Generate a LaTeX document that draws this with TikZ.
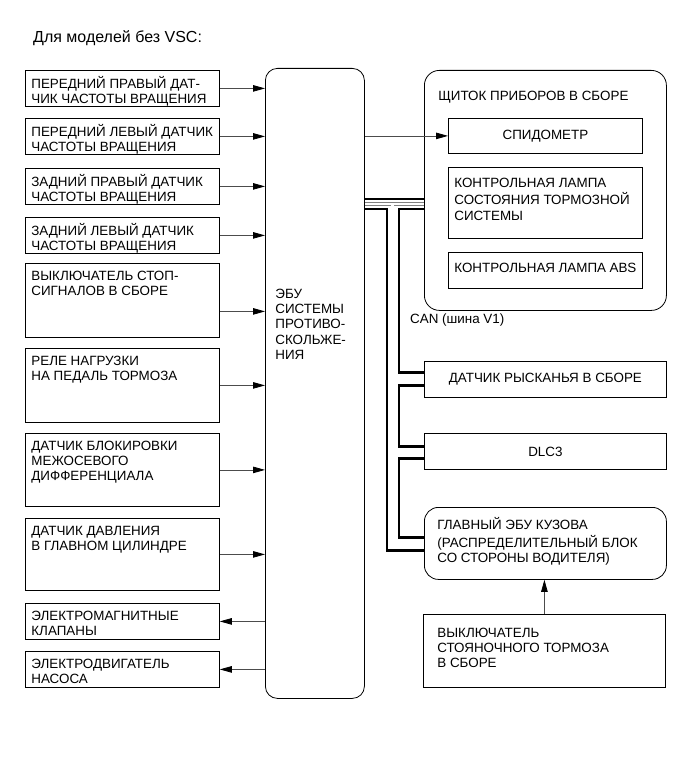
\documentclass[tikz,border=0pt]{standalone}
\usepackage{fontspec}
\setmainfont{Liberation Sans}
\usetikzlibrary{arrows.meta,calc,backgrounds}

% text block pinned to the top of a box: [top gap]{width}{height}{lines}
\newcommand{\boxbody}[4][0pt]{\parbox[c][#3][t]{#2}{\raggedright\vspace*{#1}\strut #4}}

\begin{document}
\begin{tikzpicture}[x=1pt, y=-1pt,
    every node/.style={font=\fontsize{13.4}{15.3}\selectfont},
    blk/.style={draw, line width=0.8pt, anchor=north west, inner xsep=6pt, inner ysep=6pt},
    cbox/.style={draw, line width=0.8pt, anchor=north west, align=center, inner sep=0pt},
    rbox/.style={blk, rounded corners=14pt},
    sig/.style={draw=black!70, line width=0.8pt, -{Triangle[length=12pt,width=6.5pt,color=black]}},
    canblk/.style={line width=2.8pt},
    canwht/.style={draw=white, line width=2.2pt, preaction={draw=black!50, line width=3.8pt}},
]
\useasboundingbox (0,0) rectangle (691,757);

\node[anchor=base west, inner sep=0pt, font=\fontsize{16}{18}\selectfont] (title) at (33,43) {Для моделей без VSC:};

% inputs and outputs of the ECU
\node[blk] (s1) at (25,70)  {\boxbody{182pt}{24pt}{ПЕРЕДНИЙ ПРАВЫЙ ДАТ-\\ЧИК ЧАСТОТЫ ВРАЩЕНИЯ}};
\node[blk] (s2) at (25,118) {\boxbody{182pt}{24pt}{ПЕРЕДНИЙ ЛЕВЫЙ ДАТЧИК\\ЧАСТОТЫ ВРАЩЕНИЯ}};
\node[blk] (s3) at (25,168) {\boxbody{182pt}{24pt}{ЗАДНИЙ ПРАВЫЙ ДАТЧИК\\ЧАСТОТЫ ВРАЩЕНИЯ}};
\node[blk] (s4) at (25,217) {\boxbody{182pt}{24pt}{ЗАДНИЙ ЛЕВЫЙ ДАТЧИК\\ЧАСТОТЫ ВРАЩЕНИЯ}};
\node[blk] (s5) at (25,263) {\boxbody{182pt}{62pt}{ВЫКЛЮЧАТЕЛЬ СТОП-\\СИГНАЛОВ В СБОРЕ}};
\node[blk] (s6) at (25,348) {\boxbody{182pt}{62pt}{РЕЛЕ НАГРУЗКИ\\НА ПЕДАЛЬ ТОРМОЗА}};
\node[blk] (s7) at (25,433) {\boxbody{182pt}{61pt}{ДАТЧИК БЛОКИРОВКИ\\МЕЖОСЕВОГО\\ДИФФЕРЕНЦИАЛА}};
\node[blk] (s8) at (25,518) {\boxbody{182pt}{60pt}{ДАТЧИК ДАВЛЕНИЯ\\В ГЛАВНОМ ЦИЛИНДРЕ}};
\node[blk] (a1) at (25,603) {\boxbody{182pt}{24pt}{ЭЛЕКТРОМАГНИТНЫЕ\\КЛАПАНЫ}};
\node[blk] (a2) at (25,651) {\boxbody{182pt}{24pt}{ЭЛЕКТРОДВИГАТЕЛЬ\\НАСОСА}};

\node[blk, rounded corners=12pt, inner xsep=10pt, inner ysep=0pt] (ecu) at (265,68)
    {\boxbody[219pt]{79pt}{630pt}{ЭБУ\\СИСТЕМЫ\\ПРОТИВО-\\СКОЛЬЖЕ-\\НИЯ}};

% instrument cluster
\node[blk, rounded corners=15pt, inner xsep=14pt, inner ysep=0pt] (cluster) at (424,70)
    {\boxbody[19pt]{214pt}{240pt}{ЩИТОК ПРИБОРОВ В СБОРЕ}};
\node[cbox, minimum width=194pt, minimum height=35pt] (speedo) at (448,118) {СПИДОМЕТР};
\node[blk] (brklamp) at (448,167) {\boxbody[3pt]{182pt}{59pt}{КОНТРОЛЬНАЯ ЛАМПА\\СОСТОЯНИЯ ТОРМОЗНОЙ\\СИСТЕМЫ}};
\node[blk] (abslamp) at (448,252) {\boxbody[3pt]{182pt}{24pt}{КОНТРОЛЬНАЯ ЛАМПА ABS}};

% CAN nodes
\node[anchor=base west, inner sep=0pt] (canlbl) at (410,323) {CAN (шина V1)};
\node[cbox, minimum width=242pt, minimum height=36pt] (yaw) at (424,361) {ДАТЧИК РЫСКАНЬЯ В СБОРЕ};
\node[cbox, minimum width=242pt, minimum height=36pt] (dlc) at (424,433) {DLC3};
\node[rbox, inner xsep=13pt, inner ysep=0pt] (mb) at (424,507)
    {\boxbody[10pt]{216pt}{72pt}{ГЛАВНЫЙ ЭБУ КУЗОВА\\(РАСПРЕДЕЛИТЕЛЬНЫЙ БЛОК\\СО СТОРОНЫ ВОДИТЕЛЯ)}};
\node[blk, inner xsep=14pt, inner ysep=0pt] (pbrake) at (423,614)
    {\boxbody[12pt]{214pt}{73pt}{ВЫКЛЮЧАТЕЛЬ\\СТОЯНОЧНОГО ТОРМОЗА\\В СБОРЕ}};

% signal wires
\foreach \s in {s1,s2,s3,s4,s6,s7,s8}
    \draw[sig] (\s.east) -- (\s.east -| ecu.west);
\draw[sig] ([yshift=-11pt]s5.east) coordinate (s5a) -- (s5a -| ecu.west);
\foreach \a in {a1,a2}
    \draw[sig] (\a.east -| ecu.west) -- (\a.east);
\draw[sig] (ecu.east |- speedo.west) -- (speedo.west);
\draw[sig] (pbrake.north) -- (pbrake.north |- mb.south);

% CAN bus
\coordinate (colA) at (387,0);
\coordinate (colB) at (392.5,0);
\coordinate (colC) at (399,0);
\coordinate (rowA) at (0,199);
\coordinate (rowB) at (0,204);
\coordinate (rowC) at (0,209);
\coordinate (yawIn)  at ([yshift=7pt]yaw.west);
\coordinate (yawOut) at ([yshift=-6pt]yaw.west);
\coordinate (dlcIn)  at ([yshift=5pt]dlc.west);
\coordinate (dlcOut) at ([yshift=-7pt]dlc.west);
\coordinate (mbIn)   at ([yshift=6pt]mb.west);
\coordinate (mbW)    at ([yshift=-1pt]mb.west);
\coordinate (mbOut)  at ([yshift=-7pt]mb.west);

\begin{scope}[on background layer]
\draw[canblk] (ecu.east |- rowA) -- (cluster.west |- rowA);
\draw[canblk] (ecu.east |- rowC) -| (colA |- mbOut) -- (mbOut);
\draw[canblk] (cluster.west |- rowC) -| (colC |- yawIn) -- (yawIn);
\draw[canblk] (yawOut) -| (colC |- dlcIn) -- (dlcIn);
\draw[canblk] (dlcOut) -| (colC |- mbIn) -- (mbIn);
\draw[canwht] (ecu.east |- rowB) -- (cluster.west |- rowB)
    (colB |- rowB) -- (colB |- mbW) -- (mbW)
    (colB |- yaw.west) -- (yaw.west)
    (colB |- dlc.west) -- (dlc.west);
\end{scope}
\end{tikzpicture}
\end{document}
